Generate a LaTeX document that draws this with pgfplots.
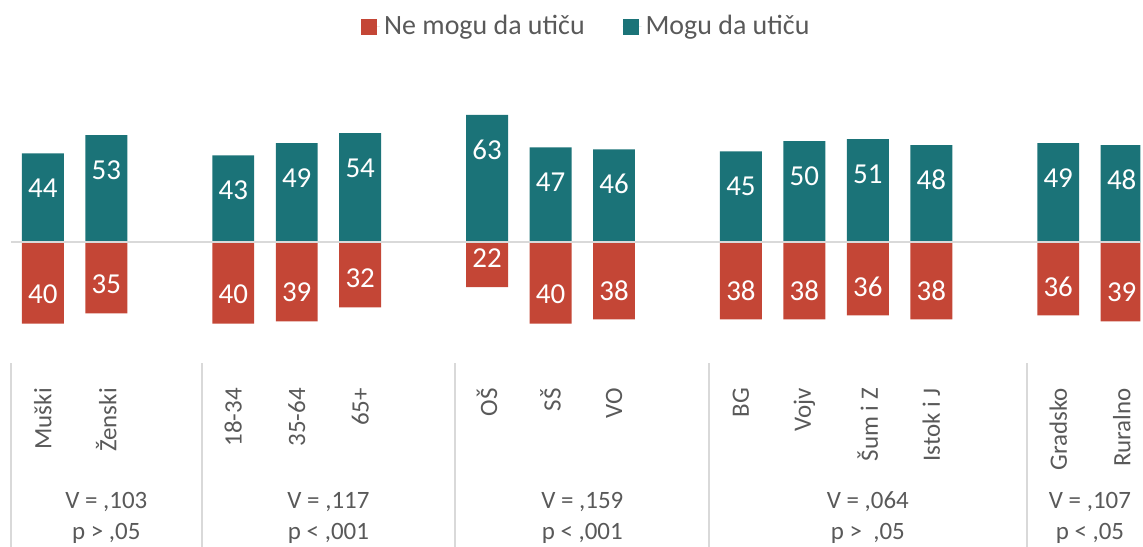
\documentclass[border=0pt]{standalone}
\usepackage{pgfplots}
\pgfplotsset{compat=1.18}
\usepackage{fontspec}
\setmainfont{Carlito}

\definecolor{teal1}{RGB}{27,115,120}
\definecolor{red1}{RGB}{196,70,54}
\definecolor{txt}{RGB}{89,89,89}
\definecolor{sep}{RGB}{217,217,217}

\begin{document}
\begin{tikzpicture}
\begin{axis}[
    width=571.5pt, height=274pt, scale only axis,
    xmin=-0.676, xmax=17.296,
    ymin=-150.2, ymax=119.7,
    ybar, bar width=21pt, bar shift=0pt,
    axis line style={draw=none},
    ytick=\empty,
    xtick={0,1,3,4,5,7,8,9,11,12,13,14,16,17},
    xticklabels={Muški,Ženski,18-34,35-64,65+,OŠ,SŠ,VO,BG,Vojv,Šum i Z,Istok i J,Gradsko,Ruralno},
    xtick style={draw=none},
    major tick length=0pt,
    xticklabel shift=-83pt,
    xticklabel style={rotate=90, anchor=east, font=\fontsize{12.5pt}{14pt}\selectfont, text=txt},
    point meta=explicit,
    nodes near coords,
    /pgf/number format/assume math mode=true,
    legend columns=2,
    legend style={draw=none, fill=none, at={(0.515,0.951)}, anchor=center,
        font=\fontsize{14pt}{16pt}\selectfont, text=txt,
        /tikz/every even column/.append style={column sep=17pt}},
    legend image code/.code={\fill[#1] (0pt,-4pt) rectangle (8pt,4pt); \path (0pt,0pt) -- (9.5pt,0pt);},
]
\addplot[fill=red1, draw=none,
    every node near coord/.append style={anchor=center, yshift=14.5pt, text=white,
        font=\fontsize{14.5pt}{16pt}\selectfont}]
coordinates {
    (0,-40) [40] (1,-35) [35]
    (3,-40) [40] (4,-39) [39] (5,-32) [32]
    (7,-22) [22] (8,-40) [40] (9,-38) [38]
    (11,-38) [38] (12,-38) [38] (13,-36) [36] (14,-38) [38]
    (16,-36) [36] (17,-39) [39]
};
\addlegendentry{Ne mogu da utiču}
\addplot[fill=teal1, draw=none,
    every node near coord/.append style={anchor=center, yshift=-17.5pt, text=white,
        font=\fontsize{14.5pt}{16pt}\selectfont}]
coordinates {
    (0,44) [44] (1,53) [53]
    (3,43) [43] (4,49) [49] (5,54) [54]
    (7,63) [63] (8,47) [47] (9,46) [46]
    (11,45) [45] (12,50) [50] (13,51) [51] (14,48) [48]
    (16,49) [49] (17,48) [48]
};
\addlegendentry{Mogu da utiču}

% zero line and group separators
\draw[sep, line width=1pt] (axis cs:-0.5,0) -- (axis cs:17.296,0);
\draw[sep, line width=1pt] (axis cs:-0.5,-59.6) -- (axis cs:-0.5,-150.2);
\draw[sep, line width=1pt] (axis cs:2.5,-59.6) -- (axis cs:2.5,-150.2);
\draw[sep, line width=1pt] (axis cs:6.5,-59.6) -- (axis cs:6.5,-150.2);
\draw[sep, line width=1pt] (axis cs:10.5,-59.6) -- (axis cs:10.5,-150.2);
\draw[sep, line width=1pt] (axis cs:15.5,-59.6) -- (axis cs:15.5,-150.2);

% group statistics
\begin{scope}[every node/.style={text=txt, font=\fontsize{12.5pt}{14pt}\selectfont, anchor=center}]
\node at (axis cs:1,-128.1) {V = ,103};
\node at (axis cs:1,-143.8) {p > ,05};
\node at (axis cs:4.5,-128.1) {V = ,117};
\node at (axis cs:4.5,-143.8) {p < ,001};
\node at (axis cs:8.5,-128.1) {V = ,159};
\node at (axis cs:8.5,-143.8) {p < ,001};
\node at (axis cs:13,-128.1) {V = ,064};
\node at (axis cs:13,-143.8) {p >\ \ ,05};
\node at (axis cs:16.5,-128.1) {V = ,107};
\node at (axis cs:16.5,-143.8) {p < ,05};
\end{scope}
\end{axis}
\end{tikzpicture}
\end{document}
